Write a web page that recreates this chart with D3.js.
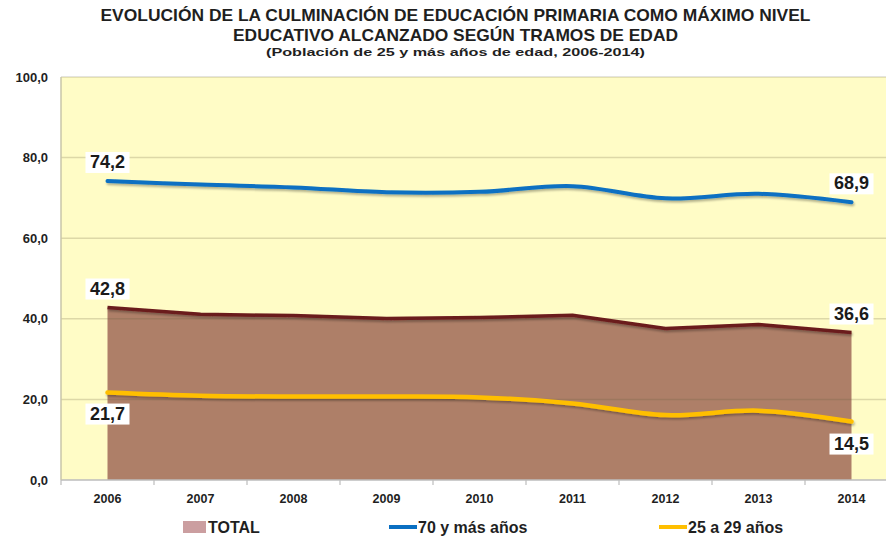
<!DOCTYPE html>
<html>
<head>
<meta charset="utf-8">
<script src="https://cdn.jsdelivr.net/npm/d3@7"></script>
<style>
  body { margin: 0; background: #fff; }
  svg { display: block; font-family: "Liberation Sans", Arial, sans-serif; }
</style>
</head>
<body>
<div class="chart-box"></div>
<script>
const years = ["2006", "2007", "2008", "2009", "2010", "2011", "2012", "2013", "2014"];
const total = [42.8, 41.1, 40.8, 40.1, 40.3, 40.9, 37.6, 38.6, 36.6];
const mayores70 = [74.2, 73.3, 72.6, 71.4, 71.5, 72.9, 69.9, 71.0, 68.9];
const jovenes = [21.7, 20.9, 20.7, 20.7, 20.5, 19.0, 16.1, 17.2, 14.5];
const yTicks = [0, 20, 40, 60, 80, 100];
const legendNames = ["TOTAL", "70 y más años", "25 a 29 años"];

const width = 886, height = 537;
const plot = {left: 61, right: 898, top: 77, bottom: 480};

const svg = d3.select(".chart-box")
  .append("svg")
  .attr("width", width)
  .attr("height", height)
  .attr("viewBox", "0 0 " + width + " " + height);

// soft shadow like the excel lines
const defs = svg.append("defs");
const shadow = defs.append("filter")
  .attr("id", "shadow")
  .attr("x", "-5%").attr("y", "-50%")
  .attr("width", "110%").attr("height", "200%");
shadow.append("feDropShadow")
  .attr("dx", 1).attr("dy", 2)
  .attr("stdDeviation", 1.2)
  .attr("flood-color", "#000")
  .attr("flood-opacity", 0.3);

const x = d3.scaleBand()
  .domain(years)
  .range([plot.left, plot.right])
  .padding(0);
const xc = d => x(d) + x.bandwidth() / 2;

const y = d3.scaleLinear()
  .domain([0, 100])
  .range([plot.bottom, plot.top]);

const fmt = v => d3.format(".1f")(v).replace(".", ",");

// titles
const titles = [
  {text: "EVOLUCIÓN DE LA CULMINACIÓN DE EDUCACIÓN PRIMARIA COMO MÁXIMO NIVEL", y: 21, size: 17, len: 710},
  {text: "EDUCATIVO ALCANZADO SEGÚN TRAMOS DE EDAD", y: 41, size: 17, len: 445},
  {text: "(Población de 25 y más años de edad, 2006-2014)", y: 55.5, size: 11, len: 379}
];
svg.selectAll(".title")
  .data(titles)
  .enter()
  .append("text")
  .attr("class", "title")
  .attr("x", 455.5)
  .attr("y", d => d.y)
  .attr("text-anchor", "middle")
  .attr("font-weight", "bold")
  .attr("font-size", d => d.size)
  .attr("textLength", d => d.len)
  .attr("lengthAdjust", "spacingAndGlyphs")
  .attr("fill", "#1f1f1f")
  .text(d => d.text);

// plot background
svg.append("rect")
  .attr("x", plot.left)
  .attr("y", plot.top)
  .attr("width", plot.right - plot.left)
  .attr("height", plot.bottom - plot.top)
  .attr("fill", "#FFFCC6");

// TOTAL area
const rows = years.map((yr, i) => ({year: yr, total: total[i], m70: mayores70[i], j: jovenes[i]}));

svg.append("path")
  .datum(rows)
  .attr("d", d3.area().x(d => xc(d.year)).y0(y(0)).y1(d => y(d.total)))
  .attr("fill", "#AE7F68");

// gridlines drawn over the area
svg.append("g")
  .selectAll("line")
  .data(yTicks)
  .enter()
  .append("line")
  .attr("x1", plot.left)
  .attr("x2", plot.right)
  .attr("y1", d => y(d))
  .attr("y2", d => y(d))
  .attr("stroke", d => d === 0 ? "#bdbdbd" : "rgba(100,90,60,0.22)")
  .attr("stroke-width", 1.5);

svg.append("line")
  .attr("x1", plot.left).attr("x2", plot.left)
  .attr("y1", plot.top).attr("y2", plot.bottom)
  .attr("stroke", "#c9c6a8")
  .attr("stroke-width", 1.5);

svg.append("path")
  .datum(rows)
  .attr("d", d3.line().x(d => xc(d.year)).y(d => y(d.total)))
  .attr("fill", "none")
  .attr("stroke", "#6B1B1D")
  .attr("stroke-width", 3.5)
  .attr("stroke-linejoin", "round")
  .attr("filter", "url(#shadow)");

// smoothed lines
const smooth = key => d3.line()
  .x(d => xc(d.year))
  .y(d => y(d[key]))
  .curve(d3.curveCatmullRom.alpha(0));

svg.append("path")
  .datum(rows)
  .attr("d", smooth("m70"))
  .attr("fill", "none")
  .attr("stroke", "#0A6FC2")
  .attr("stroke-width", 4)
  .attr("stroke-linecap", "round")
  .attr("filter", "url(#shadow)");

svg.append("path")
  .datum(rows)
  .attr("d", smooth("j"))
  .attr("fill", "none")
  .attr("stroke", "#FFBF00")
  .attr("stroke-width", 4.5)
  .attr("stroke-linecap", "round")
  .attr("filter", "url(#shadow)");

// axes
const yAxis = svg.append("g")
  .attr("transform", "translate(" + 48 + ",0)")
  .call(d3.axisLeft(y).tickValues(yTicks).tickFormat(fmt).tickSize(0).tickPadding(0));
yAxis.select(".domain").remove();
yAxis.selectAll("text")
  .attr("font-size", 13)
  .attr("font-weight", "bold")
  .attr("fill", "#1f1f1f")
  .attr("font-family", "Liberation Sans, Arial, sans-serif");

const xAxis = svg.append("g")
  .attr("transform", "translate(0," + plot.bottom + ")")
  .call(d3.axisBottom(x).tickSize(0).tickPadding(14));
xAxis.select(".domain").remove();
xAxis.selectAll("text")
  .attr("font-size", 12.5)
  .attr("font-weight", "bold")
  .attr("fill", "#1f1f1f")
  .attr("font-family", "Liberation Sans, Arial, sans-serif");

// tick marks between the categories
svg.append("g")
  .selectAll("line")
  .data(years)
  .enter()
  .append("line")
  .attr("x1", d => x(d))
  .attr("x2", d => x(d))
  .attr("y1", plot.bottom)
  .attr("y2", plot.bottom + 5)
  .attr("stroke", "#bdbdbd")
  .attr("stroke-width", 1.2);

// value labels at the ends
const first = years[0], last = years[years.length - 1];
const labels = [
  {year: first, v: mayores70[0], dy: -13},
  {year: last, v: mayores70[8], dy: -13},
  {year: first, v: total[0], dy: -13},
  {year: last, v: total[8], dy: -13},
  {year: first, v: jovenes[0], dy: 27},
  {year: last, v: jovenes[8], dy: 28}
];

const lab = svg.append("g")
  .selectAll("g")
  .data(labels)
  .enter()
  .append("g")
  .attr("transform", d => "translate(" + xc(d.year) + "," + (y(d.v) + d.dy) + ")");

lab.append("rect")
  .attr("x", -22)
  .attr("y", -16)
  .attr("width", 44)
  .attr("height", 21)
  .attr("fill", "#fff");

lab.append("text")
  .attr("text-anchor", "middle")
  .attr("font-size", 18)
  .attr("font-weight", "bold")
  .attr("fill", "#1a1a1a")
  .text(d => fmt(d.v));

// legend
const legend = svg.append("g");
const legendX = [183, 389, 659];

legend.append("rect")
  .attr("x", legendX[0])
  .attr("y", 521)
  .attr("width", 23)
  .attr("height", 12)
  .attr("fill", "#CB9EA0");

legend.append("line")
  .attr("x1", legendX[1]).attr("x2", legendX[1] + 28)
  .attr("y1", 527).attr("y2", 527)
  .attr("stroke", "#0A6FC2")
  .attr("stroke-width", 4);

legend.append("line")
  .attr("x1", legendX[2]).attr("x2", legendX[2] + 28)
  .attr("y1", 527).attr("y2", 527)
  .attr("stroke", "#FFBF00")
  .attr("stroke-width", 4);

legend.selectAll("text")
  .data(legendNames)
  .enter()
  .append("text")
  .attr("x", (d, i) => legendX[i] + (i === 0 ? 25 : 29))
  .attr("y", 533)
  .attr("font-size", 16)
  .attr("font-weight", "bold")
  .attr("fill", "#1f1f1f")
  .text(d => d);
</script>
</body>
</html>
